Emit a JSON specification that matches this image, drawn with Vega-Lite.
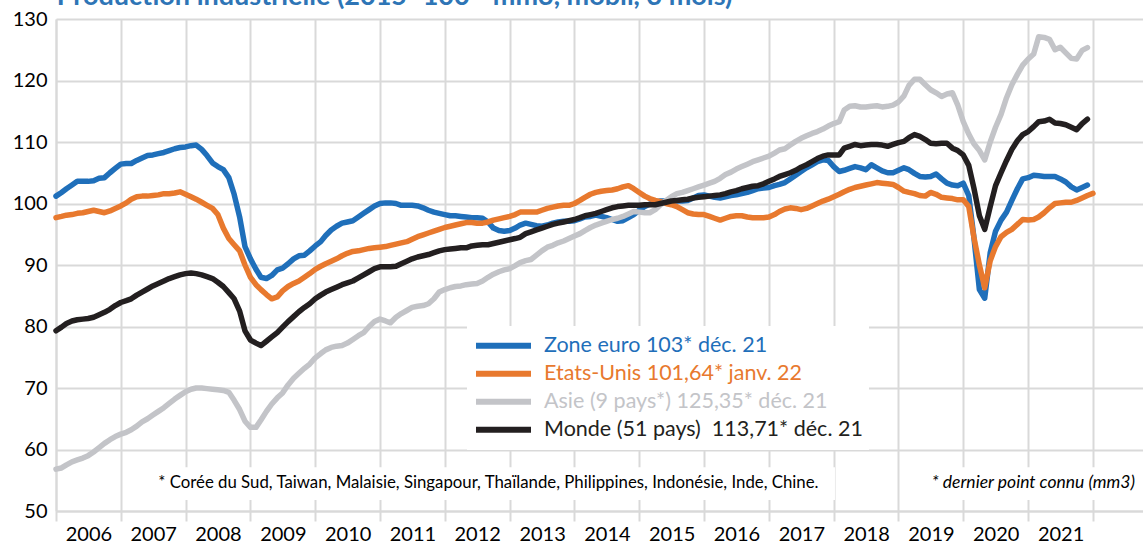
{
"$schema": "https://vega.github.io/schema/vega-lite/v6.json",
"width": 1087, "height": 492,
"autosize": {"type": "none"},
"padding": {"left": 56, "top": 19, "right": 0, "bottom": 38},
"background": "white",
"config": {"font": "Lato", "view": {"stroke": null}},
"layer": [
{
"data": {"values": [
{"d":"2006-01","eu":101.2,"us":97.7,"asie":56.8,"monde":79.3},
{"d":"2006-02","eu":101.8,"us":97.9,"asie":57.0,"monde":79.9},
{"d":"2006-03","eu":102.4,"us":98.1,"asie":57.5,"monde":80.5},
{"d":"2006-04","eu":103.0,"us":98.2,"asie":58.0,"monde":80.9},
{"d":"2006-05","eu":103.6,"us":98.4,"asie":58.3,"monde":81.1},
{"d":"2006-06","eu":103.6,"us":98.5,"asie":58.6,"monde":81.2},
{"d":"2006-07","eu":103.6,"us":98.7,"asie":59.0,"monde":81.3},
{"d":"2006-08","eu":103.7,"us":98.9,"asie":59.6,"monde":81.5},
{"d":"2006-09","eu":104.1,"us":98.7,"asie":60.3,"monde":81.9},
{"d":"2006-10","eu":104.2,"us":98.5,"asie":61.0,"monde":82.3},
{"d":"2006-11","eu":105.0,"us":98.8,"asie":61.6,"monde":82.8},
{"d":"2006-12","eu":105.7,"us":99.2,"asie":62.1,"monde":83.4},
{"d":"2007-01","eu":106.4,"us":99.6,"asie":62.5,"monde":83.9},
{"d":"2007-02","eu":106.5,"us":100.1,"asie":62.8,"monde":84.2},
{"d":"2007-03","eu":106.5,"us":100.7,"asie":63.2,"monde":84.5},
{"d":"2007-04","eu":107.0,"us":101.1,"asie":63.8,"monde":85.1},
{"d":"2007-05","eu":107.4,"us":101.2,"asie":64.5,"monde":85.6},
{"d":"2007-06","eu":107.8,"us":101.2,"asie":65.0,"monde":86.1},
{"d":"2007-07","eu":107.9,"us":101.3,"asie":65.6,"monde":86.6},
{"d":"2007-08","eu":108.1,"us":101.4,"asie":66.2,"monde":87.0},
{"d":"2007-09","eu":108.3,"us":101.6,"asie":66.8,"monde":87.4},
{"d":"2007-10","eu":108.6,"us":101.6,"asie":67.5,"monde":87.8},
{"d":"2007-11","eu":108.9,"us":101.7,"asie":68.2,"monde":88.1},
{"d":"2007-12","eu":109.1,"us":101.9,"asie":68.8,"monde":88.4},
{"d":"2008-01","eu":109.2,"us":101.5,"asie":69.4,"monde":88.6},
{"d":"2008-02","eu":109.4,"us":101.1,"asie":69.8,"monde":88.7},
{"d":"2008-03","eu":109.5,"us":100.7,"asie":70.0,"monde":88.6},
{"d":"2008-04","eu":108.8,"us":100.2,"asie":70.0,"monde":88.4},
{"d":"2008-05","eu":107.8,"us":99.7,"asie":69.9,"monde":88.1},
{"d":"2008-06","eu":106.6,"us":99.2,"asie":69.8,"monde":87.8},
{"d":"2008-07","eu":106.0,"us":98.2,"asie":69.7,"monde":87.2},
{"d":"2008-08","eu":105.5,"us":96.0,"asie":69.6,"monde":86.5},
{"d":"2008-09","eu":104.2,"us":94.3,"asie":69.3,"monde":85.5},
{"d":"2008-10","eu":101.5,"us":93.3,"asie":68.0,"monde":84.5},
{"d":"2008-11","eu":97.8,"us":92.3,"asie":66.5,"monde":82.5},
{"d":"2008-12","eu":93.0,"us":90.0,"asie":64.6,"monde":79.3},
{"d":"2009-01","eu":91.0,"us":88.0,"asie":63.6,"monde":77.8},
{"d":"2009-02","eu":89.3,"us":86.8,"asie":63.6,"monde":77.3},
{"d":"2009-03","eu":88.0,"us":86.0,"asie":64.8,"monde":76.9},
{"d":"2009-04","eu":87.8,"us":85.2,"asie":66.2,"monde":77.6},
{"d":"2009-05","eu":88.3,"us":84.5,"asie":67.4,"monde":78.3},
{"d":"2009-06","eu":89.2,"us":84.8,"asie":68.4,"monde":79.0},
{"d":"2009-07","eu":89.5,"us":85.8,"asie":69.2,"monde":79.9},
{"d":"2009-08","eu":90.2,"us":86.5,"asie":70.5,"monde":80.8},
{"d":"2009-09","eu":91.0,"us":87.0,"asie":71.6,"monde":81.6},
{"d":"2009-10","eu":91.5,"us":87.4,"asie":72.4,"monde":82.4},
{"d":"2009-11","eu":91.6,"us":88.0,"asie":73.2,"monde":83.1},
{"d":"2009-12","eu":92.3,"us":88.6,"asie":73.9,"monde":83.7},
{"d":"2010-01","eu":93.1,"us":89.3,"asie":74.9,"monde":84.5},
{"d":"2010-02","eu":93.8,"us":89.8,"asie":75.6,"monde":85.1},
{"d":"2010-03","eu":94.8,"us":90.2,"asie":76.2,"monde":85.6},
{"d":"2010-04","eu":95.7,"us":90.6,"asie":76.6,"monde":86.0},
{"d":"2010-05","eu":96.3,"us":91.0,"asie":76.8,"monde":86.4},
{"d":"2010-06","eu":96.8,"us":91.5,"asie":76.9,"monde":86.8},
{"d":"2010-07","eu":97.0,"us":91.9,"asie":77.3,"monde":87.1},
{"d":"2010-08","eu":97.2,"us":92.2,"asie":77.9,"monde":87.4},
{"d":"2010-09","eu":97.8,"us":92.3,"asie":78.5,"monde":87.9},
{"d":"2010-10","eu":98.4,"us":92.5,"asie":79.0,"monde":88.4},
{"d":"2010-11","eu":99.0,"us":92.7,"asie":80.0,"monde":88.9},
{"d":"2010-12","eu":99.6,"us":92.8,"asie":80.8,"monde":89.4},
{"d":"2011-01","eu":100.0,"us":92.9,"asie":81.2,"monde":89.7},
{"d":"2011-02","eu":100.1,"us":93.0,"asie":80.9,"monde":89.7},
{"d":"2011-03","eu":100.1,"us":93.2,"asie":80.6,"monde":89.7},
{"d":"2011-04","eu":100.0,"us":93.4,"asie":81.5,"monde":89.8},
{"d":"2011-05","eu":99.7,"us":93.6,"asie":82.1,"monde":90.2},
{"d":"2011-06","eu":99.7,"us":93.8,"asie":82.6,"monde":90.6},
{"d":"2011-07","eu":99.7,"us":94.2,"asie":83.1,"monde":91.0},
{"d":"2011-08","eu":99.6,"us":94.6,"asie":83.3,"monde":91.3},
{"d":"2011-09","eu":99.3,"us":94.9,"asie":83.4,"monde":91.5},
{"d":"2011-10","eu":98.9,"us":95.2,"asie":83.7,"monde":91.7},
{"d":"2011-11","eu":98.6,"us":95.5,"asie":84.5,"monde":92.0},
{"d":"2011-12","eu":98.4,"us":95.8,"asie":85.6,"monde":92.3},
{"d":"2012-01","eu":98.2,"us":96.1,"asie":86.0,"monde":92.5},
{"d":"2012-02","eu":98.0,"us":96.3,"asie":86.3,"monde":92.6},
{"d":"2012-03","eu":98.0,"us":96.5,"asie":86.5,"monde":92.7},
{"d":"2012-04","eu":97.9,"us":96.7,"asie":86.6,"monde":92.8},
{"d":"2012-05","eu":97.8,"us":96.9,"asie":86.8,"monde":92.8},
{"d":"2012-06","eu":97.7,"us":96.9,"asie":86.9,"monde":93.1},
{"d":"2012-07","eu":97.7,"us":96.8,"asie":87.0,"monde":93.2},
{"d":"2012-08","eu":97.6,"us":96.8,"asie":87.4,"monde":93.3},
{"d":"2012-09","eu":97.0,"us":97.0,"asie":88.0,"monde":93.3},
{"d":"2012-10","eu":96.0,"us":97.3,"asie":88.5,"monde":93.5},
{"d":"2012-11","eu":95.6,"us":97.5,"asie":88.9,"monde":93.7},
{"d":"2012-12","eu":95.5,"us":97.7,"asie":89.2,"monde":93.9},
{"d":"2013-01","eu":95.6,"us":97.9,"asie":89.4,"monde":94.1},
{"d":"2013-02","eu":96.0,"us":98.2,"asie":89.9,"monde":94.3},
{"d":"2013-03","eu":96.5,"us":98.6,"asie":90.4,"monde":94.5},
{"d":"2013-04","eu":96.8,"us":98.6,"asie":90.7,"monde":95.1},
{"d":"2013-05","eu":96.6,"us":98.6,"asie":90.9,"monde":95.4},
{"d":"2013-06","eu":96.4,"us":98.6,"asie":91.6,"monde":95.7},
{"d":"2013-07","eu":96.3,"us":98.9,"asie":92.3,"monde":96.0},
{"d":"2013-08","eu":96.5,"us":99.2,"asie":92.9,"monde":96.3},
{"d":"2013-09","eu":96.8,"us":99.4,"asie":93.2,"monde":96.6},
{"d":"2013-10","eu":97.0,"us":99.6,"asie":93.6,"monde":96.8},
{"d":"2013-11","eu":97.1,"us":99.7,"asie":93.9,"monde":97.0},
{"d":"2013-12","eu":97.1,"us":99.7,"asie":94.3,"monde":97.2},
{"d":"2014-01","eu":97.2,"us":100.0,"asie":94.7,"monde":97.4},
{"d":"2014-02","eu":97.5,"us":100.5,"asie":95.1,"monde":97.7},
{"d":"2014-03","eu":97.8,"us":101.0,"asie":95.6,"monde":98.0},
{"d":"2014-04","eu":97.9,"us":101.5,"asie":96.1,"monde":98.2},
{"d":"2014-05","eu":98.1,"us":101.8,"asie":96.5,"monde":98.4},
{"d":"2014-06","eu":97.9,"us":102.0,"asie":96.8,"monde":98.7},
{"d":"2014-07","eu":97.7,"us":102.1,"asie":97.1,"monde":99.0},
{"d":"2014-08","eu":97.4,"us":102.2,"asie":97.4,"monde":99.3},
{"d":"2014-09","eu":97.1,"us":102.4,"asie":97.6,"monde":99.5},
{"d":"2014-10","eu":97.2,"us":102.7,"asie":97.9,"monde":99.6},
{"d":"2014-11","eu":97.7,"us":102.9,"asie":98.3,"monde":99.7},
{"d":"2014-12","eu":98.2,"us":102.4,"asie":98.7,"monde":99.7},
{"d":"2015-01","eu":98.9,"us":101.8,"asie":98.6,"monde":99.7},
{"d":"2015-02","eu":99.5,"us":101.2,"asie":98.5,"monde":99.8},
{"d":"2015-03","eu":99.9,"us":100.8,"asie":98.5,"monde":99.8},
{"d":"2015-04","eu":100.2,"us":100.5,"asie":99.0,"monde":99.8},
{"d":"2015-05","eu":100.4,"us":100.3,"asie":99.8,"monde":100.0},
{"d":"2015-06","eu":100.4,"us":100.0,"asie":100.5,"monde":100.2},
{"d":"2015-07","eu":100.5,"us":99.8,"asie":101.1,"monde":100.4},
{"d":"2015-08","eu":100.4,"us":99.5,"asie":101.6,"monde":100.5},
{"d":"2015-09","eu":100.4,"us":99.0,"asie":101.8,"monde":100.6},
{"d":"2015-10","eu":100.5,"us":98.5,"asie":102.1,"monde":100.7},
{"d":"2015-11","eu":100.9,"us":98.3,"asie":102.4,"monde":100.9},
{"d":"2015-12","eu":101.3,"us":98.2,"asie":102.7,"monde":101.0},
{"d":"2016-01","eu":101.4,"us":98.2,"asie":103.0,"monde":101.1},
{"d":"2016-02","eu":101.2,"us":97.9,"asie":103.3,"monde":101.2},
{"d":"2016-03","eu":101.0,"us":97.6,"asie":103.6,"monde":101.3},
{"d":"2016-04","eu":100.9,"us":97.3,"asie":104.1,"monde":101.4},
{"d":"2016-05","eu":101.1,"us":97.6,"asie":104.7,"monde":101.6},
{"d":"2016-06","eu":101.3,"us":97.9,"asie":105.1,"monde":101.9},
{"d":"2016-07","eu":101.4,"us":98.0,"asie":105.6,"monde":102.1},
{"d":"2016-08","eu":101.6,"us":98.0,"asie":106.0,"monde":102.4},
{"d":"2016-09","eu":101.8,"us":97.8,"asie":106.4,"monde":102.6},
{"d":"2016-10","eu":102.1,"us":97.7,"asie":106.8,"monde":102.8},
{"d":"2016-11","eu":102.4,"us":97.7,"asie":107.1,"monde":102.9},
{"d":"2016-12","eu":102.5,"us":97.7,"asie":107.4,"monde":103.2},
{"d":"2017-01","eu":102.6,"us":97.8,"asie":107.7,"monde":103.6},
{"d":"2017-02","eu":102.9,"us":98.2,"asie":108.2,"monde":104.0},
{"d":"2017-03","eu":103.1,"us":98.7,"asie":108.7,"monde":104.4},
{"d":"2017-04","eu":103.4,"us":99.1,"asie":108.9,"monde":104.7},
{"d":"2017-05","eu":104.0,"us":99.3,"asie":109.5,"monde":105.0},
{"d":"2017-06","eu":104.6,"us":99.2,"asie":110.1,"monde":105.4},
{"d":"2017-07","eu":105.2,"us":99.0,"asie":110.6,"monde":105.9},
{"d":"2017-08","eu":105.8,"us":99.2,"asie":111.0,"monde":106.3},
{"d":"2017-09","eu":106.3,"us":99.6,"asie":111.4,"monde":106.8},
{"d":"2017-10","eu":106.8,"us":100.0,"asie":111.7,"monde":107.3},
{"d":"2017-11","eu":107.1,"us":100.4,"asie":112.1,"monde":107.7},
{"d":"2017-12","eu":107.0,"us":100.7,"asie":112.6,"monde":107.9},
{"d":"2018-01","eu":106.0,"us":101.1,"asie":113.0,"monde":107.9},
{"d":"2018-02","eu":105.2,"us":101.5,"asie":113.3,"monde":107.9},
{"d":"2018-03","eu":105.4,"us":101.9,"asie":115.2,"monde":109.0},
{"d":"2018-04","eu":105.7,"us":102.3,"asie":115.8,"monde":109.3},
{"d":"2018-05","eu":106.0,"us":102.6,"asie":115.9,"monde":109.6},
{"d":"2018-06","eu":105.8,"us":102.8,"asie":115.7,"monde":109.4},
{"d":"2018-07","eu":105.5,"us":103.0,"asie":115.7,"monde":109.5},
{"d":"2018-08","eu":106.3,"us":103.2,"asie":115.8,"monde":109.6},
{"d":"2018-09","eu":105.8,"us":103.4,"asie":115.9,"monde":109.6},
{"d":"2018-10","eu":105.3,"us":103.3,"asie":115.7,"monde":109.5},
{"d":"2018-11","eu":105.0,"us":103.2,"asie":115.8,"monde":109.3},
{"d":"2018-12","eu":105.0,"us":103.1,"asie":116.0,"monde":109.6},
{"d":"2019-01","eu":105.4,"us":102.6,"asie":116.5,"monde":109.9},
{"d":"2019-02","eu":105.8,"us":102.0,"asie":117.5,"monde":110.1},
{"d":"2019-03","eu":105.5,"us":101.8,"asie":119.2,"monde":110.7},
{"d":"2019-04","eu":104.9,"us":101.6,"asie":120.2,"monde":111.2},
{"d":"2019-05","eu":104.4,"us":101.3,"asie":120.2,"monde":110.9},
{"d":"2019-06","eu":104.3,"us":101.2,"asie":119.3,"monde":110.4},
{"d":"2019-07","eu":104.4,"us":101.8,"asie":118.5,"monde":109.8},
{"d":"2019-08","eu":104.8,"us":101.5,"asie":118.0,"monde":109.7},
{"d":"2019-09","eu":104.0,"us":101.0,"asie":117.4,"monde":109.8},
{"d":"2019-10","eu":103.3,"us":100.9,"asie":117.8,"monde":109.8},
{"d":"2019-11","eu":103.0,"us":100.8,"asie":118.0,"monde":109.0},
{"d":"2019-12","eu":102.9,"us":100.6,"asie":116.0,"monde":108.6},
{"d":"2020-01","eu":103.3,"us":100.6,"asie":113.3,"monde":107.9},
{"d":"2020-02","eu":101.3,"us":99.5,"asie":111.3,"monde":106.2},
{"d":"2020-03","eu":94.5,"us":94.5,"asie":109.7,"monde":102.5},
{"d":"2020-04","eu":86.0,"us":90.0,"asie":108.6,"monde":98.0},
{"d":"2020-05","eu":84.6,"us":86.3,"asie":107.1,"monde":95.8},
{"d":"2020-06","eu":92.0,"us":90.7,"asie":110.0,"monde":99.5},
{"d":"2020-07","eu":95.5,"us":93.0,"asie":112.4,"monde":102.9},
{"d":"2020-08","eu":97.3,"us":94.6,"asie":114.5,"monde":105.0},
{"d":"2020-09","eu":98.6,"us":95.3,"asie":117.2,"monde":107.0},
{"d":"2020-10","eu":100.5,"us":95.8,"asie":119.3,"monde":108.8},
{"d":"2020-11","eu":102.4,"us":96.6,"asie":121.0,"monde":110.2},
{"d":"2020-12","eu":104.0,"us":97.4,"asie":122.5,"monde":111.2},
{"d":"2021-01","eu":104.2,"us":97.3,"asie":123.5,"monde":111.7},
{"d":"2021-02","eu":104.6,"us":97.4,"asie":124.3,"monde":112.5},
{"d":"2021-03","eu":104.5,"us":97.8,"asie":127.1,"monde":113.3},
{"d":"2021-04","eu":104.4,"us":98.5,"asie":127.0,"monde":113.4},
{"d":"2021-05","eu":104.4,"us":99.3,"asie":126.7,"monde":113.7},
{"d":"2021-06","eu":104.4,"us":100.0,"asie":125.0,"monde":113.1},
{"d":"2021-07","eu":104.0,"us":100.1,"asie":125.4,"monde":113.0},
{"d":"2021-08","eu":103.5,"us":100.2,"asie":124.5,"monde":112.8},
{"d":"2021-09","eu":102.7,"us":100.2,"asie":123.6,"monde":112.4},
{"d":"2021-10","eu":102.2,"us":100.5,"asie":123.5,"monde":112.0},
{"d":"2021-11","eu":102.6,"us":100.9,"asie":124.9,"monde":113.0},
{"d":"2021-12","eu":103.0,"us":101.3,"asie":125.35,"monde":113.71},
{"d":"2022-01","us":101.64}
]},
"transform": [{"fold": ["eu", "us", "asie", "monde"], "as": ["serie", "val"]}],
"mark": {"type": "line", "strokeWidth": 5.5, "strokeJoin": "round", "strokeCap": "round"},
"encoding": {
"x": {"field": "d", "type": "temporal",
 "scale": {"type": "utc", "domain": [{"year": 2006, "month": 1, "date": 1, "utc": true}, {"year": 2022, "month": 10, "date": 10, "utc": true}]},
 "axis": {"title": null,
  "values": [{"year":2006,"month":1,"date":1,"utc":true},{"year":2007,"month":1,"date":1,"utc":true},{"year":2008,"month":1,"date":1,"utc":true},{"year":2009,"month":1,"date":1,"utc":true},{"year":2010,"month":1,"date":1,"utc":true},{"year":2011,"month":1,"date":1,"utc":true},{"year":2012,"month":1,"date":1,"utc":true},{"year":2013,"month":1,"date":1,"utc":true},{"year":2014,"month":1,"date":1,"utc":true},{"year":2015,"month":1,"date":1,"utc":true},{"year":2016,"month":1,"date":1,"utc":true},{"year":2017,"month":1,"date":1,"utc":true},{"year":2018,"month":1,"date":1,"utc":true},{"year":2019,"month":1,"date":1,"utc":true},{"year":2020,"month":1,"date":1,"utc":true},{"year":2021,"month":1,"date":1,"utc":true},{"year":2022,"month":1,"date":1,"utc":true}],
  "labelExpr": "utcyear(datum.value) > 2021 ? '' : utcFormat(datum.value, '%Y')",
  "labelOffset": 32.4, "labelAlign": "center", "labelFlush": false, "labelOverlap": false, "labelBound": false,
  "labelFontSize": 20, "labelColor": "#000000", "labelPadding": 3, "labelFont": "Lato",
  "tickSize": 10, "tickColor": "#d9d9d9", "tickWidth": 2,
  "domainColor": "#d9d9d9", "domainWidth": 2,
  "grid": true, "gridColor": "#d9d9d9", "gridWidth": 2}},
"y": {"field": "val", "type": "quantitative",
 "scale": {"domain": [50, 130], "nice": false, "zero": false},
 "axis": {"title": null, "values": [50, 60, 70, 80, 90, 100, 110, 120, 130],
  "labelFontSize": 20, "labelColor": "#000000", "labelFont": "Lato", "labelPadding": 9, "tickSize": 0, "labelFlush": false,
  "domainColor": "#d9d9d9", "domainWidth": 2, "grid": true, "gridColor": "#d9d9d9", "gridWidth": 2}},
"color": {"field": "serie", "type": "nominal",
 "scale": {"domain": ["eu", "us", "asie", "monde"], "range": ["#1F6FBA", "#E8792E", "#C3C4C8", "#231F20"]},
 "legend": {"title": null, "orient": "none", "legendX": 411, "legendY": 307, "direction": "vertical",
  "fillColor": "white", "padding": 6, "symbolType": "stroke", "symbolSize": 3025, "symbolStrokeWidth": 6,
  "clipHeight": 27.4, "rowPadding": 0, "labelFontSize": 21.5, "labelFont": "Lato", "labelOffset": 10, "labelLimit": 0,
  "labelExpr": "datum.value == 'eu' ? 'Zone euro 103* déc. 21' : datum.value == 'us' ? 'Etats-Unis 101,64* janv. 22' : datum.value == 'asie' ? 'Asie (9 pays*) 125,35* déc. 21' : 'Monde (51 pays)\u00a0 113,71* déc. 21'",
  "encode": {"labels": {"update": {"fill": {"scale": "color", "field": "value"}}}}}}
}
},
{
"data": {"values": [{}]},
"mark": {"type": "rect", "color": "white"},
"encoding": {
"x": {"datum": {"year": 2007, "month": 4, "date": 17, "utc": true}, "type": "temporal"},
"x2": {"datum": {"year": 2018, "month": 1, "date": 8, "utc": true}},
"y": {"datum": 57.1, "type": "quantitative"},
"y2": {"datum": 51.8}
}
},
{
"data": {"values": [{}]},
"mark": {"type": "rect", "color": "white"},
"encoding": {
"x": {"datum": {"year": 2019, "month": 3, "date": 17, "utc": true}, "type": "temporal"},
"x2": {"datum": {"year": 2022, "month": 10, "date": 10, "utc": true}},
"y": {"datum": 57.1, "type": "quantitative"},
"y2": {"datum": 51.8}
}
},
{
"data": {"values": [{}]},
"mark": {"type": "text", "text": "* Corée du Sud, Taiwan, Malaisie, Singapour, Thaïlande, Philippines, Indonésie, Inde, Chine.", "font": "Lato", "fontSize": 16.8, "align": "center", "baseline": "middle", "color": "#000000"},
"encoding": {
"x": {"datum": {"year": 2012, "month": 9, "date": 3, "utc": true}, "type": "temporal"},
"y": {"datum": 54.5, "type": "quantitative"}
}
},
{
"data": {"values": [{}]},
"mark": {"type": "text", "text": "* dernier point connu (mm3)", "font": "Lato", "fontSize": 17.5, "fontStyle": "italic", "align": "right", "baseline": "middle", "color": "#000000"},
"encoding": {
"x": {"datum": {"year": 2022, "month": 8, "date": 26, "utc": true}, "type": "temporal"},
"y": {"datum": 54.5, "type": "quantitative"}
}
},
{
"data": {"values": [{}]},
"mark": {"type": "text", "text": "Production industrielle (2015=100 - mm3, mobil, 3 mois)", "font": "Lato", "fontSize": 27, "fontWeight": "bold", "align": "left", "baseline": "alphabetic", "color": "#2E75B6", "clip": false},
"encoding": {
"x": {"datum": {"year": 2006, "month": 1, "date": 5, "utc": true}, "type": "temporal"},
"y": {"datum": 132.3, "type": "quantitative"}
}
}
]
}
